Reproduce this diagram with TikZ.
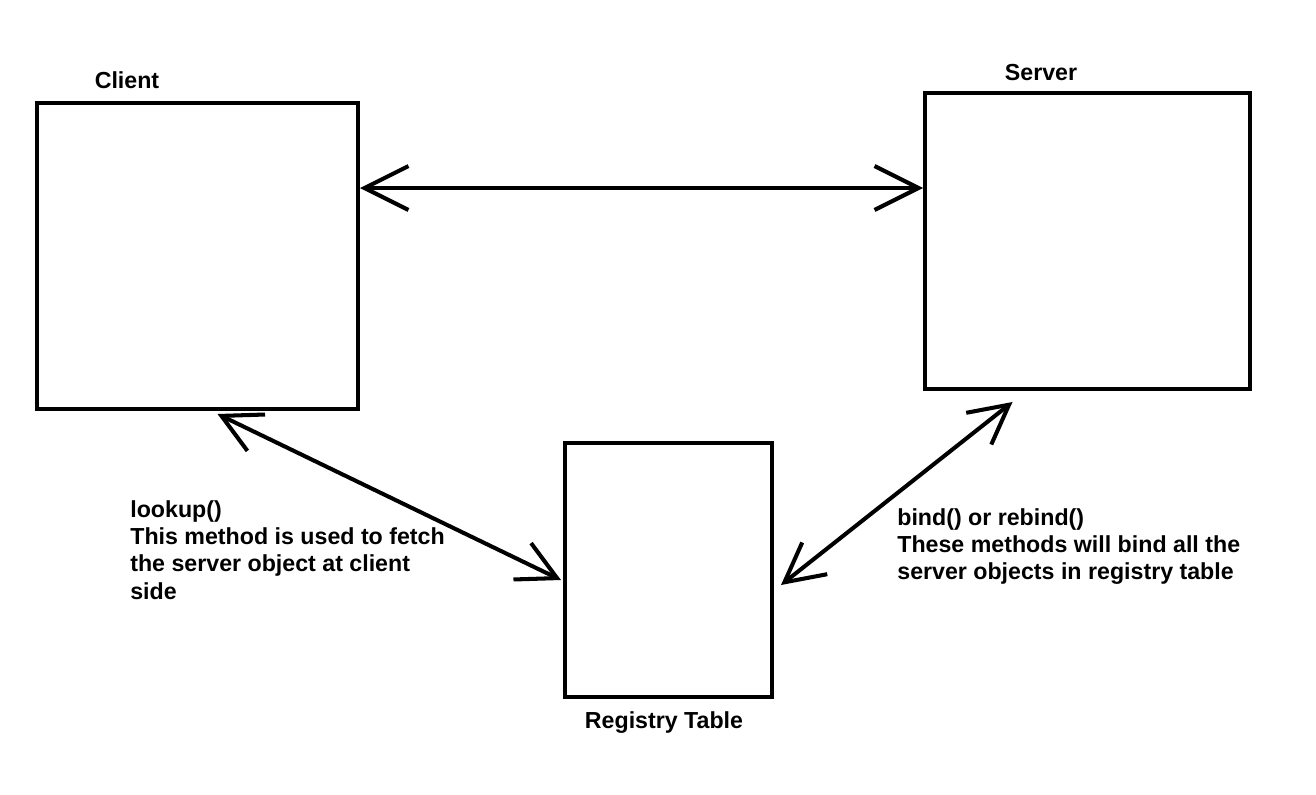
\documentclass[tikz,border=0pt]{standalone}
\usepackage{fontspec}
\setmainfont{Liberation Sans}
\usetikzlibrary{arrows.meta,calc}

\begin{document}
\begin{tikzpicture}[x=0.02cm,y=-0.02cm,font=\fontsize{13.2}{15.6}\selectfont\bfseries,
 b/.style={draw,line width=2.3pt,inner sep=0pt},
 t/.style={inner sep=0pt,align=left},
 d/.style={line width=2.3pt,{Straight Barb[length=25pt,width=25pt]}-{Straight Barb[length=25pt,width=25pt]}},
 e/.style={line width=2.3pt,{Straight Barb[length=22pt,width=23pt]}-{Straight Barb[length=22pt,width=23pt]}}]
\useasboundingbox (0,0) rectangle (1316,795);
\node[b,minimum width=6.42cm,minimum height=6.12cm] (client) at (197.5,256) {};
\node[b,minimum width=6.5cm,minimum height=5.92cm] (server) at (1087.5,241) {};
\node[b,minimum width=4.14cm,minimum height=5.08cm] (reg) at (668.5,570) {};
\node[t,anchor=base] (clientl) at (127,88) {Client};
\node[t,anchor=base] (serverl) at (1041,80) {Server};
\node[t,anchor=base] (regl) at (664,728) {Registry Table};
\node[t,anchor=north west] (lookup) at (130,500) {lookup()\\This method is used to fetch\\the server object at client\\side};
\node[t,anchor=north west] (bind) at (897,508) {bind() or rebind()\\These methods will bind all the\\server objects in registry table};
\coordinate (h) at (0,188);
\draw[d] (client.east |- h) -- (server.west |- h);
\draw[e] ($(client.south)+(20,3)$) -- ($(reg.west)+(-2,10)$);
\draw[e] ($(server.south)+(-75,11)$) -- ($(reg.east)+(7,15)$);
\end{tikzpicture}
\end{document}
